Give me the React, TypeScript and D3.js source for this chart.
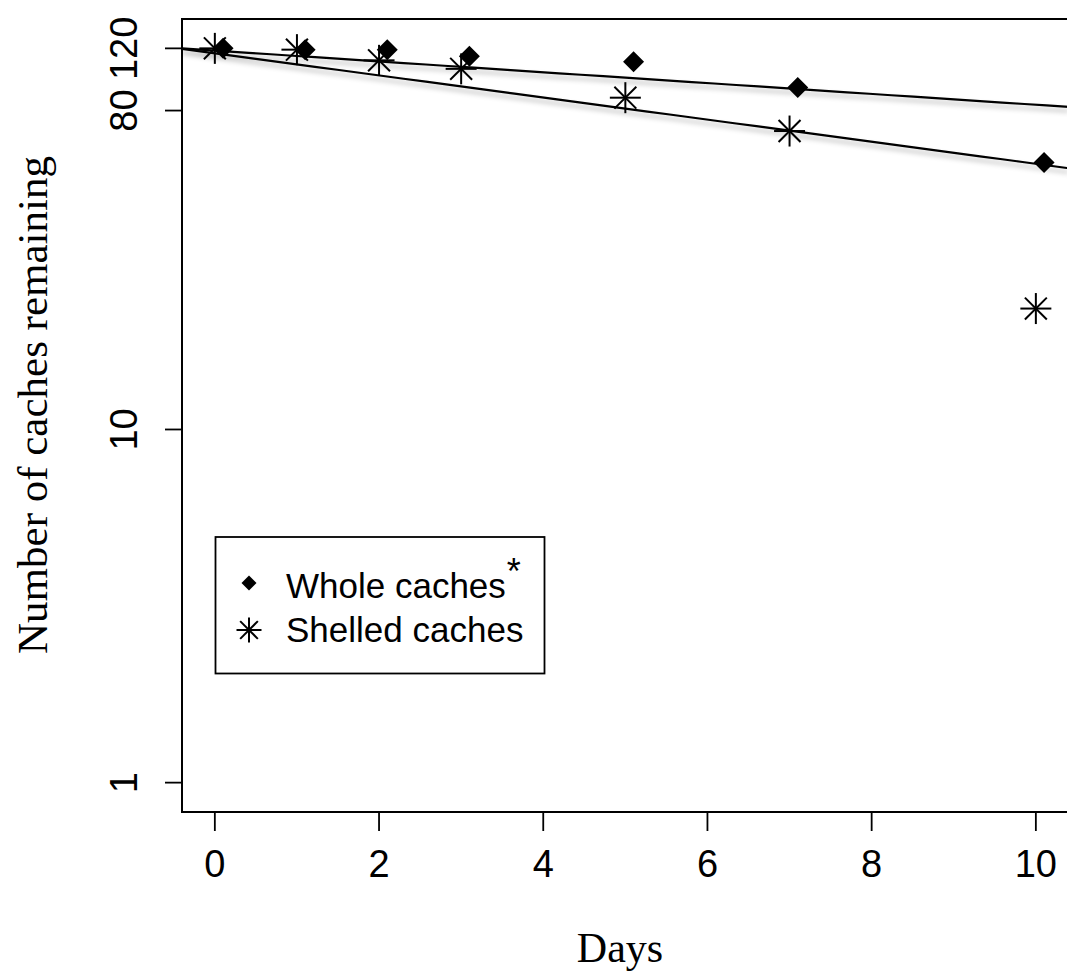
import React from "react";
import * as d3 from "d3";

// Days since caching; whole caches are nudged right by 0.1 so markers don't overlap
const days = [0, 1, 2, 3, 5, 7, 10];
const wholeOffset = 0.1;
const wholeRemaining = [120, 119, 119, 114, 110, 93, 57];
const shelledRemaining = [120, 119, 111, 105, 87, 70, 22];

// Fitted decay lines on the log10 scale: log10(n) = a + b * day
const wholeFit = { a: 2.0729, b: -0.01534 };
const shelledFit = { a: 2.0652, b: -0.03129 };

const xTicks = [0, 2, 4, 6, 8, 10];
const yTicks = [1, 10, 80, 120];

const W = 1067;
const H = 978;

// Plot region (box) and data limits with 4% padding, as base graphics do
const left = 182;
const top = 19;
const bottom = 812;
const xDomain = [-0.4, 10.4];
const yLog = [0, Math.log10(120)];
const pad = (yLog[1] - yLog[0]) * 0.04;

const x = d3.scaleLinear().domain(xDomain).range([left, 1068.7]);
const y = d3
  .scaleLog()
  .domain([Math.pow(10, yLog[0] - pad), Math.pow(10, yLog[1] + pad)])
  .range([bottom, top]);

const sans = "'Liberation Sans', Arial, Helvetica, sans-serif";
const serif = "'Liberation Serif', 'Times New Roman', Times, serif";

function Diamond({ cx, cy, r }: { cx: number; cy: number; r: number }) {
  return (
    <path
      d={`M${cx},${cy - r}L${cx + r},${cy}L${cx},${cy + r}L${cx - r},${cy}Z`}
      fill="#000"
    />
  );
}

function Asterisk({ cx, cy, r }: { cx: number; cy: number; r: number }) {
  const d = r / Math.SQRT2;
  return (
    <g stroke="#000" strokeWidth={2} strokeLinecap="butt">
      <line x1={cx - r} y1={cy} x2={cx + r} y2={cy} />
      <line x1={cx} y1={cy - r} x2={cx} y2={cy + r} />
      <line x1={cx - d} y1={cy - d} x2={cx + d} y2={cy + d} />
      <line x1={cx - d} y1={cy + d} x2={cx + d} y2={cy - d} />
    </g>
  );
}

function fitPath(fit: { a: number; b: number }) {
  const pts: [number, number][] = d3
    .range(0, 41)
    .map((i) => xDomain[0] + ((xDomain[1] - xDomain[0]) * i) / 40)
    .map((t) => [x(t), y(Math.pow(10, fit.a + fit.b * t))]);
  return d3.line()(pts) || "";
}

export default function App() {
  return (
    <svg
      width={W}
      height={H}
      viewBox={`0 0 ${W} ${H}`}
      style={{ position: "absolute", left: 0, top: 0, background: "#fff" }}
    >
      <defs>
        <filter id="lineShadow" x="-5%" y="-50%" width="110%" height="300%">
          <feDropShadow dx="0" dy="4" stdDeviation="2.5" floodColor="#000" floodOpacity="0.3" />
        </filter>
        <clipPath id="plotClip">
          <rect x={left} y={top} width={x(xDomain[1]) - left} height={bottom - top} />
        </clipPath>
      </defs>
      <rect width={W} height={H} fill="#fff" />

      {/* fitted lines */}
      <g clipPath="url(#plotClip)">
        <g filter="url(#lineShadow)" fill="none" stroke="#000" strokeWidth={2.2}>
          <path d={fitPath(wholeFit)} />
          <path d={fitPath(shelledFit)} />
        </g>
      </g>

      {/* observations */}
      {days.map((t, i) => (
        <Asterisk key={`s${i}`} cx={x(t)} cy={y(shelledRemaining[i])} r={15.5} />
      ))}
      {days.map((t, i) => (
        <Diamond key={`w${i}`} cx={x(t + wholeOffset)} cy={y(wholeRemaining[i])} r={10.5} />
      ))}

      {/* plot box */}
      <rect
        x={left}
        y={top}
        width={x(xDomain[1]) - left}
        height={bottom - top}
        fill="none"
        stroke="#000"
        strokeWidth={2}
      />

      {/* x axis */}
      <g stroke="#000" strokeWidth={1.8}>
        {xTicks.map((t) => (
          <line key={t} x1={x(t)} x2={x(t)} y1={bottom} y2={bottom + 19} />
        ))}
      </g>
      <g fontFamily={sans} fontSize={38} textAnchor="middle" fill="#000">
        {xTicks.map((t) => (
          <text key={t} x={x(t)} y={877}>
            {t}
          </text>
        ))}
      </g>

      {/* y axis */}
      <g stroke="#000" strokeWidth={1.8}>
        {yTicks.map((t) => (
          <line key={t} x1={left - 17} x2={left} y1={y(t)} y2={y(t)} />
        ))}
      </g>
      <g fontFamily={sans} fontSize={38} textAnchor="middle" fill="#000">
        {yTicks.map((t) => (
          <text key={t} transform={`translate(137,${y(t)}) rotate(-90)`}>
            {t}
          </text>
        ))}
      </g>

      {/* axis titles */}
      <text x={620} y={962} fontFamily={serif} fontSize={42} textAnchor="middle" fill="#000">
        Days
      </text>
      <text
        transform={`translate(47,405) rotate(-90)`}
        fontFamily={serif}
        fontSize={43}
        textAnchor="middle"
        fill="#000"
      >
        Number of caches remaining
      </text>

      {/* legend */}
      <rect x={215.5} y={537} width={329} height={136.5} fill="#fff" stroke="#000" strokeWidth={1.8} />
      <Diamond cx={249} cy={583} r={7.5} />
      <Asterisk cx={249} cy={630} r={12.5} />
      <g fontFamily={sans} fontSize={35} fill="#000">
        <text x={286} y={598}>
          Whole caches
          <tspan fontSize={36} dx={1} dy={-14}>*</tspan>
        </text>
        <text x={286} y={642}>
          Shelled caches
        </text>
      </g>
    </svg>
  );
}
